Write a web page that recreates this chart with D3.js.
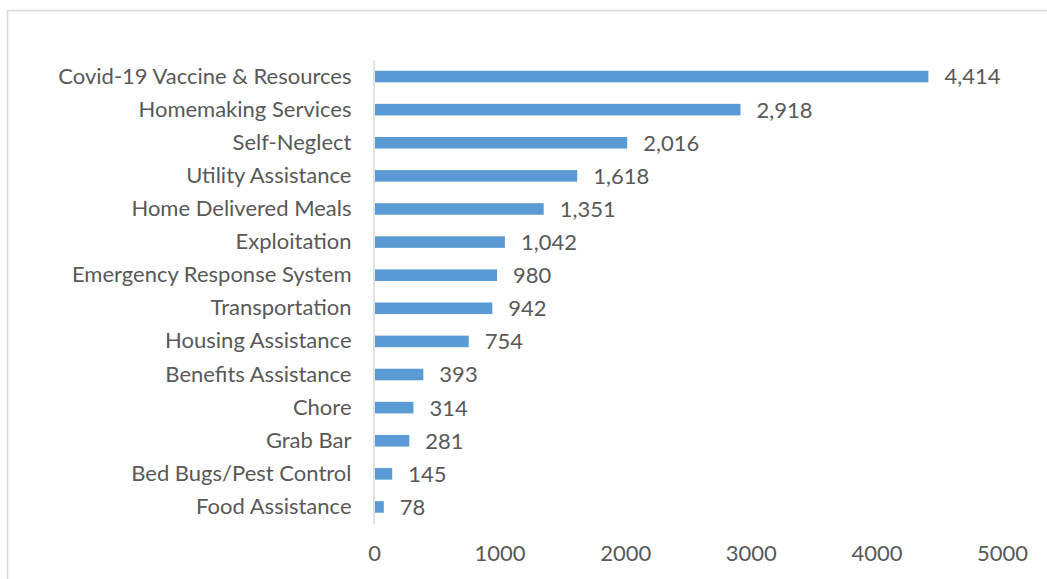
<!DOCTYPE html>
<html>
<head>
<meta charset="utf-8">
<script src="https://cdn.jsdelivr.net/npm/d3@7"></script>
<style>
  html, body { margin: 0; padding: 0; background: #fff; }
  svg { display: block; }
  text { font-family: Lato, "Open Sans", sans-serif; fill: #595959; }
</style>
</head>
<body>
<svg id="chart" width="1047" height="579"></svg>
<script>
// Service requests by category
const categories = [
  "Covid-19 Vaccine & Resources",
  "Homemaking Services",
  "Self-Neglect",
  "Utility Assistance",
  "Home Delivered Meals",
  "Exploitation",
  "Emergency Response System",
  "Transportation",
  "Housing Assistance",
  "Benefits Assistance",
  "Chore",
  "Grab Bar",
  "Bed Bugs/Pest Control",
  "Food Assistance"
];
const counts = [4414, 2918, 2016, 1618, 1351, 1042, 980, 942, 754, 393, 314, 281, 145, 78];
const xTicks = [0, 1000, 2000, 3000, 4000, 5000];

const svg = d3.select("#chart");
const W = 1047, H = 579;

// outer chart frame
svg.append("rect")
  .attr("x", 7.5).attr("y", 10.5)
  .attr("width", W + 10).attr("height", H + 10)
  .attr("fill", "none").attr("stroke", "#d9d9d9").attr("stroke-width", 1.5);

const x = d3.scaleLinear().domain([0, 5000]).range([374, 1002]);
const y = d3.scaleBand().domain(categories).range([60, 523.5]).paddingInner(0.65).paddingOuter(0.325);

const fmt = d3.format(",");
const fontSize = 22;

// bars
svg.append("g").selectAll("rect")
  .data(categories)
  .join("rect")
  .attr("x", x(0) + 1)
  .attr("y", d => y(d))
  .attr("width", (d, i) => x(counts[i]) - x(0) - 1)
  .attr("height", y.bandwidth())
  .attr("fill", "#5b9bd5");

// value labels
svg.append("g").selectAll("text")
  .data(categories)
  .join("text")
  .attr("x", (d, i) => x(counts[i]) + 16)
  .attr("y", d => y(d) + y.bandwidth() / 2)
  .attr("dy", "0.36em")
  .attr("font-size", fontSize)
  .text((d, i) => fmt(counts[i]));

// category axis
const yAxis = svg.append("g")
  .attr("transform", `translate(${x(0) - 0.5},0)`)
  .call(d3.axisLeft(y).tickSize(0).tickPadding(22));
yAxis.select(".domain").attr("stroke", "#d9d9d9").attr("stroke-width", 1.5);
yAxis.selectAll("text").attr("font-size", fontSize).attr("fill", "#595959")
  .style("font-family", "Lato, 'Open Sans', sans-serif");

// value axis (labels only)
const xAxis = svg.append("g")
  .attr("transform", "translate(0,553)")
  .call(d3.axisBottom(x).tickValues(xTicks).tickFormat(d3.format("d")).tickSize(0).tickPadding(0));
xAxis.select(".domain").remove();
xAxis.selectAll("text").attr("font-size", fontSize).attr("fill", "#595959").attr("dy", "0.36em")
  .style("font-family", "Lato, 'Open Sans', sans-serif");
</script>
</body>
</html>
